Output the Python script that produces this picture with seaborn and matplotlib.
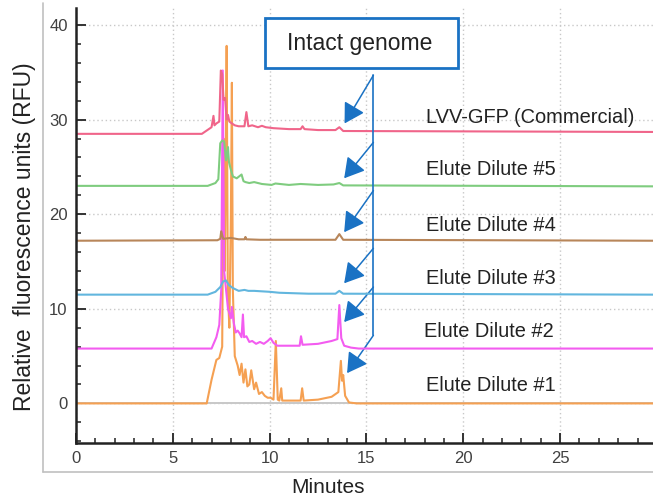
import numpy as np
import pandas as pd
import matplotlib
matplotlib.use("Agg")
import matplotlib.pyplot as plt
import seaborn as sns
from matplotlib.patches import FancyArrowPatch, Rectangle
from matplotlib.lines import Line2D
from matplotlib.ticker import MultipleLocator

t_d1 = [0, 6.75, 7.0, 7.25, 7.4, 7.55, 7.62, 7.68, 7.73, 7.78, 7.84, 7.92, 8.0, 8.05, 8.1, 8.2,
        8.35, 8.45, 8.55, 8.65, 8.75, 8.85, 8.95, 9.05, 9.2, 9.3, 9.45, 9.6, 9.75, 9.9,
        10.05, 10.2, 10.32, 10.42, 10.5, 10.6, 10.65, 10.75, 11.0, 11.6, 11.68, 11.76,
        12.5, 13.2, 13.55, 13.68, 13.74, 13.8, 13.9, 14.1, 14.5, 29.8]
v_d1 = [0, 0, 2.5, 4.6, 4.8, 6.0, 28, 14, 24, 37.8, 12, 8, 20, 33.9, 12, 5.0,
        4.0, 3.0, 4.2, 2.2, 3.6, 1.8, 2.0, 3.5, 1.5, 2.2, 1.0, 1.2, 0.8, 0.6,
        0.6, 0.4, 6.6, 0.4, 0.3, 1.6, 0.3, 0.3, 0.3, 0.3, 1.6, 0.3,
        0.4, 0.7, 1.2, 4.5, 2.4, 3.0, 0.8, 0.1, 0, 0]

t_d2 = [0, 7.0, 7.25, 7.4, 7.5, 7.58, 7.65, 7.75, 7.85, 8.0, 8.05, 8.15, 8.25, 8.35, 8.45,
        8.55, 8.62, 8.68, 8.8, 8.95, 9.1, 9.3, 9.5, 9.7, 9.9, 10.05, 10.2, 10.4, 11.0,
        11.55, 11.62, 11.7, 12.5, 13.2, 13.5, 13.6, 13.7, 13.85, 14.2, 14.6, 29.8]
v_d2 = [5.8, 5.8, 7.0, 8.3, 12, 35.2, 14, 12, 10, 9, 10.2, 8.5, 7.5, 7.7, 7.4,
        7.0, 9.4, 7.0, 7.1, 6.5, 6.6, 6.3, 6.5, 6.3, 6.6, 6.9, 6.4, 6.1, 6.1,
        6.1, 7.1, 6.2, 6.3, 6.6, 6.8, 10.4, 6.9, 6.1, 5.9, 5.8, 5.8]

t_d3 = [0, 6.8, 7.2, 7.45, 7.6, 7.75, 7.9, 8.1, 8.4, 8.7, 8.9, 9.2, 9.6, 10.0, 10.5,
        12.0, 13.4, 13.6, 13.8, 29.8]
v_d3 = [11.5, 11.5, 11.8, 12.3, 12.9, 13.0, 12.5, 12.2, 11.9, 12.0, 11.9, 11.9, 11.85, 11.8, 11.7,
        11.6, 11.6, 11.9, 11.6, 11.5]

t_d4 = [0, 7.3, 7.45, 7.5, 7.6, 8.0, 8.4, 8.7, 8.75, 8.8, 9.5, 13.4, 13.6, 13.7, 13.8, 29.8]
v_d4 = [17.2, 17.25, 17.4, 18.2, 17.4, 17.5, 17.35, 17.35, 17.6, 17.35, 17.3, 17.3, 17.9, 17.6, 17.3, 17.2]

t_d5 = [0, 6.8, 7.2, 7.35, 7.45, 7.55, 7.65, 7.75, 7.85, 7.9, 8.0, 8.1, 8.3, 8.55, 8.65,
        8.75, 8.95, 9.2, 9.6, 10.1, 10.3, 11.0, 11.6, 12.5, 13.3, 13.6, 13.8, 29.8]
v_d5 = [23.0, 23.0, 23.3, 23.7, 27.5, 27.8, 27.7, 25.7, 27.1, 25.5, 24.7, 24.0, 23.8, 24.2, 23.5,
        23.4, 23.3, 23.4, 23.2, 23.1, 23.25, 23.1, 23.2, 23.1, 23.15, 23.3, 23.05, 22.95]

t_lvv = [0, 6.5, 7.0, 7.1, 7.15, 7.25, 7.4, 7.48, 7.55, 7.62, 7.7, 7.78, 7.85, 7.92, 8.05,
         8.2, 8.4, 8.7, 8.8, 8.9, 9.1, 9.4, 9.6, 9.8, 10.2, 11.0, 11.6, 11.7, 11.8, 12.5,
         13.4, 13.6, 13.8, 29.8]
v_lvv = [28.5, 28.5, 29.2, 30.4, 29.4, 29.6, 29.8, 35.2, 34.8, 32.1, 32.3, 30.0, 30.5, 29.8, 29.6,
         29.4, 29.3, 29.3, 30.8, 29.3, 29.4, 29.2, 29.35, 29.2, 29.1, 29.0, 29.0, 29.3, 29.0, 28.9,
         28.9, 29.2, 28.8, 28.7]

t_blank = [0, 29.8]
v_blank = [0, 0]

noms = ["Elute Dilute #1", "Elute Dilute #2", "Elute Dilute #3",
        "Elute Dilute #4", "Elute Dilute #5", "LVV-GFP (Commercial)"]
couleurs = ["#f5a052", "#f35cf0", "#62b6de", "#b8865a", "#7fcc7f", "#f0658a"]
traces = [(t_d1, v_d1), (t_d2, v_d2), (t_d3, v_d3), (t_d4, v_d4), (t_d5, v_d5), (t_lvv, v_lvv)]

# position des etiquettes (x, y en donnees)
etiquettes_x = [18.1, 17.95, 18.1, 18.1, 18.1, 18.1]
etiquettes_y = [1.9, 7.6, 13.2, 18.8, 24.7, 30.2]

# fleches "Intact genome" : depart sur la barre verticale -> pointe pres du pic a ~13.7 min
x_barre = 15.36
fleche_y0 = [7.2, 12.3, 16.4, 22.5, 27.6, 34.7]
fleche_x1 = [14.0, 13.85, 13.85, 13.85, 13.85, 13.87]
fleche_y1 = [3.2, 8.6, 12.7, 18.1, 23.8, 29.6]

sns.set_theme(style="white")
plt.rcParams['font.family'] = ['Liberation Sans', 'DejaVu Sans']

fig = plt.figure(figsize=(6.53, 5.03), dpi=100)
ax = fig.add_axes([0.1164, 0.119, 0.8836, 0.865])

sns.lineplot(x=t_blank, y=v_blank, color="#c8c8c8", lw=1.4, ax=ax)
for (tt, vv), c in zip(traces, couleurs):
    sns.lineplot(x=tt, y=vv, color=c, lw=1.5, ax=ax, sort=False)

ax.set_xlim(0, 29.8)
ax.set_ylim(-4.2, 41.8)
ax.xaxis.set_major_locator(MultipleLocator(5))
ax.xaxis.set_minor_locator(MultipleLocator(1))
ax.yaxis.set_major_locator(MultipleLocator(10))
ax.yaxis.set_minor_locator(MultipleLocator(2))
ax.grid(True, which='major', color='#c8c8c8', linestyle=(0, (1, 2)), lw=1)
ax.tick_params(which='major', direction='in', length=7, width=1.4, color='#333333',
               labelsize=12, labelcolor='#404040', pad=6, left=True, bottom=True)
ax.tick_params(which='minor', direction='in', length=3.5, width=1.2, color='#333333',
               left=True, bottom=True)
for s in ['top', 'right']:
    ax.spines[s].set_visible(False)
for s in ['left', 'bottom']:
    ax.spines[s].set_color('#222222')
    ax.spines[s].set_linewidth(1.8)

for nom, x, y in zip(noms, etiquettes_x, etiquettes_y):
    ax.text(x, y, nom, fontsize=14.4, color='#222222', va='center', ha='left')

bleu = "#1a72c4"
ax.plot([x_barre, x_barre], [max(fleche_y0), min(fleche_y0)], color=bleu, lw=1.2)
for y0, x1, y1 in zip(fleche_y0, fleche_x1, fleche_y1):
    ax.add_patch(FancyArrowPatch((x_barre, y0), (x1, y1),
                                 arrowstyle='-|>,head_length=0.55,head_width=0.32',
                                 mutation_scale=22, color=bleu, lw=1.1,
                                 shrinkA=0, shrinkB=0))

# encadre "Intact genome"
ax.add_patch(Rectangle((9.76, 35.45), 9.97, 5.3, fc='white', ec=bleu, lw=2, zorder=5))
ax.text(10.9, 38.1, "Intact genome", fontsize=16.5, color='#222222', ha='left', va='center', zorder=6)

ax.set_xlabel("")
ax.set_ylabel("")
fig.text(0.503, 0.03, "Minutes", fontsize=15, color='#222222', ha='center', va='center')
fig.text(0.038, 0.53, "Relative  fluorescence units (RFU)", fontsize=16.5, color='#222222',
         ha='center', va='center', rotation=90)

# cadre gris clair du panneau
fig.add_artist(Line2D([0.066, 0.066], [0.062, 0.995], color='#c0c0c0', lw=1.2, transform=fig.transFigure))
fig.add_artist(Line2D([0.066, 1.0], [0.062, 0.062], color='#c0c0c0', lw=1.2, transform=fig.transFigure))

fig.savefig("out.png", dpi=100)
